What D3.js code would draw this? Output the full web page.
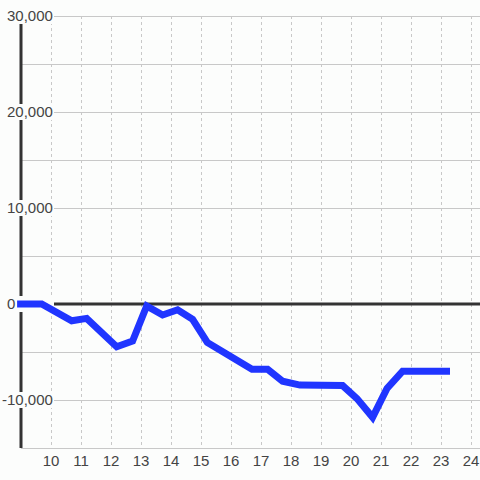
<!DOCTYPE html>
<html>
<head>
<meta charset="utf-8">
<script src="https://cdn.jsdelivr.net/npm/d3@7"></script>
<style>
  body { margin: 0; background: #fcfdfc; }
  svg { display: block; }
</style>
</head>
<body>
<script>
'use strict';

// x position of each reading (axis units) and its value
const xValues = [8.87, 9.69, 10.69, 11.19, 12.19, 12.72, 13.19, 13.72, 14.22, 14.72, 15.21,
                 16.7, 17.22, 17.72, 18.3, 19.72, 20.2, 20.72, 21.2, 21.72, 23.3];
const yValues = [0, 0, -1750, -1500, -4450, -3850, -200, -1150, -600, -1600, -4000,
                 -6800, -6800, -8050, -8450, -8500, -9850, -11800, -8800, -7000, -7000];
const xTicks = [10, 11, 12, 13, 14, 15, 16, 17, 18, 19, 20, 21, 22, 23, 24];
const yLabelTicks = [30000, 20000, 10000, 0, -10000];
const yGridTicks = [30000, 25000, 20000, 15000, 10000, 5000, 0, -5000, -10000, -15000];

(function() {

  let svgContainer = "";
  const bg = "#fcfdfc";

  svgContainer = d3.select('body')
    .append('svg')
    .attr('width', 480)
    .attr('height', 480);

  let xScale = d3.scaleLinear()
    .domain([9, 24.3])
    .range([21, 480]);

  let yScale = d3.scaleLinear()
    .domain([-15000, 30000])
    .range([448, 16]);

  let fmt = d3.formatLocale({decimal: ".", thousands: ",", grouping: [3], currency: ["", ""], minus: "-"}).format(",");

  // vertical dashed grid
  svgContainer.append('g')
    .selectAll('line')
    .data(xTicks)
    .enter()
    .append('line')
      .attr('x1', d => xScale(d) + 0.5)
      .attr('x2', d => xScale(d) + 0.5)
      .attr('y1', yScale(30000))
      .attr('y2', yScale(-15000))
      .attr('stroke', '#c8c8c8')
      .attr('stroke-dasharray', '3,3');

  // horizontal grid
  svgContainer.append('g')
    .selectAll('line')
    .data(yGridTicks)
    .enter()
    .append('line')
      .attr('x1', xScale(9))
      .attr('x2', 480)
      .attr('y1', d => yScale(d) + 0.5)
      .attr('y2', d => yScale(d) + 0.5)
      .attr('stroke', '#c8c8c8');

  // zero line
  svgContainer.append('line')
    .attr('x1', xScale(9))
    .attr('x2', 480)
    .attr('y1', yScale(0))
    .attr('y2', yScale(0))
    .attr('stroke', '#333')
    .attr('stroke-width', 3);

  // left axis line
  svgContainer.append('line')
    .attr('x1', xScale(9))
    .attr('x2', xScale(9))
    .attr('y1', yScale(30000))
    .attr('y2', yScale(-15000))
    .attr('stroke', '#333')
    .attr('stroke-width', 3);

  // y labels with background boxes
  let yLab = svgContainer.append('g')
    .selectAll('g')
    .data(yLabelTicks)
    .enter()
    .append('g');

  yLab.append('rect')
    .attr('x', d => d < 0 ? 1 : 5)
    .attr('y', d => yScale(d) - 8)
    .attr('width', d => d < 0 ? 53 : 49)
    .attr('height', 16)
    .attr('fill', bg);

  yLab.append('text')
    .attr('x', d => d < 0 ? 2 : 7)
    .attr('y', d => yScale(d) + 5)
    .style('font-family', 'Liberation Sans, Arial, sans-serif')
    .style('font-size', '15px')
    .attr('fill', '#444')
    .text(d => fmt(d));

  // x labels
  svgContainer.append('g')
    .selectAll('text')
    .data(xTicks)
    .enter()
    .append('text')
      .attr('x', d => xScale(d))
      .attr('y', 466)
      .attr('text-anchor', 'middle')
      .style('font-family', 'Liberation Sans, Arial, sans-serif')
      .style('font-size', '15px')
      .attr('fill', '#444')
      .text(d => d);

  // the series
  let points = xValues.map((x, i) => [x, yValues[i]]);
  let line = d3.line()
    .x(d => xScale(d[0]))
    .y(d => yScale(d[1]));

  svgContainer.append('path')
    .datum(points)
    .attr('d', line)
    .attr('fill', 'none')
    .attr('stroke', '#2035ff')
    .attr('stroke-width', 7);

})();
</script>
</body>
</html>
